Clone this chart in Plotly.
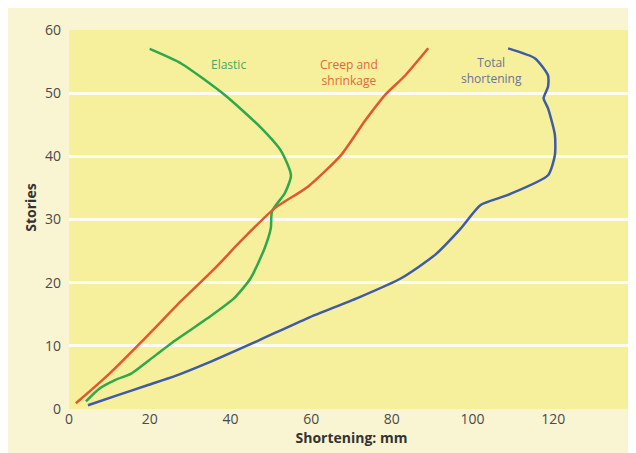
import plotly.graph_objects as go

# Elastic shortening (mm) vs stories
elastic_x = [4.2, 7.5, 11.5, 15.4, 19.6, 26.2, 34.4, 41.0, 45.0, 48.5, 50.0, 50.3, 53.5, 55.0, 52.6, 47.6, 38.6, 27.8, 20.0]
elastic_y = [1.2, 3.2, 4.6, 5.6, 7.6, 10.8, 14.4, 17.6, 20.7, 25.5, 28.6, 31.3, 34.2, 37.0, 40.8, 44.5, 49.7, 54.7, 57.0]

# Creep and shrinkage (mm) vs stories
creep_x = [1.7, 9.7, 19.6, 27.8, 36.2, 42.6, 51.0, 59.2, 67.4, 73.3, 78.3, 83.3, 89.0]
creep_y = [0.9, 5.4, 11.7, 17.1, 22.3, 26.6, 31.8, 35.2, 40.2, 45.6, 49.7, 52.8, 57.1]

# Total shortening (mm) vs stories
total_x = [4.7, 12.1, 19.6, 26.2, 34.4, 46.8, 59.2, 71.6, 82.3, 90.7, 97.1, 102.0, 108.8, 118.7, 120.4, 120.4, 118.7, 117.6, 118.7, 118.7, 115.5, 108.8]
total_y = [0.6, 2.2, 3.8, 5.2, 7.3, 10.8, 14.4, 17.6, 20.7, 24.4, 28.6, 32.3, 33.9, 37.0, 40.2, 43.4, 47.6, 49.2, 51.0, 52.8, 55.5, 57.1]

x_ticks = [0, 20, 40, 60, 80, 100, 120, 140]
y_ticks = [0, 10, 20, 30, 40, 50, 60]

GREEN = "#2ea84a"
RED = "#e0582e"
BLUE = "#3f5aa6"

fig = go.Figure()
for xs, ys, c in [(elastic_x, elastic_y, GREEN), (creep_x, creep_y, RED), (total_x, total_y, BLUE)]:
    fig.add_trace(go.Scatter(x=xs, y=ys, mode="lines",
                             line=dict(color=c, width=2.5, shape="spline", smoothing=0.6),
                             showlegend=False, hoverinfo="skip"))

ann_font = dict(family="Open Sans, sans-serif", size=12)
fig.add_annotation(x=39.4, y=54.6, text="Elastic", showarrow=False,
                   font=dict(color="#4aa862", **ann_font))
fig.add_annotation(x=69.5, y=53.3, text="Creep and<br>shrinkage", showarrow=False,
                   font=dict(color="#de6a3a", **ann_font))
fig.add_annotation(x=104.8, y=53.6, text="Total<br>shortening", showarrow=False,
                   font=dict(color="#6a7496", **ann_font))
fig.add_annotation(xref="paper", yref="paper", x=-0.068, y=0.53, text="<b>Stories</b>",
                   xanchor="center", yanchor="middle",
                   textangle=-90, showarrow=False,
                   font=dict(family="Open Sans, sans-serif", size=14, color="#333333"))

fig.update_layout(
    width=636, height=453,
    margin=dict(l=61, r=10, t=22, b=52),
    paper_bgcolor="#f9f5d2",
    plot_bgcolor="#f6ef9c",
    font=dict(family="Open Sans, sans-serif", color="#4a4a4a", size=14),
    xaxis=dict(range=[0, 140], tickvals=x_ticks, ticktext=[str(v) for v in x_ticks],
               showgrid=False, zeroline=False, showline=False, ticks="",
               title=dict(text="<b>Shortening: mm</b>", font=dict(size=14, color="#333333"), standoff=4)),
    yaxis=dict(range=[0, 60], tickvals=y_ticks, ticktext=[str(v) for v in y_ticks],
               showgrid=True, gridcolor="rgba(255,255,255,0.85)", gridwidth=3,
               zeroline=False, showline=False, ticks="", ticklabelstandoff=7),
)

fig.write_html("out.html")
